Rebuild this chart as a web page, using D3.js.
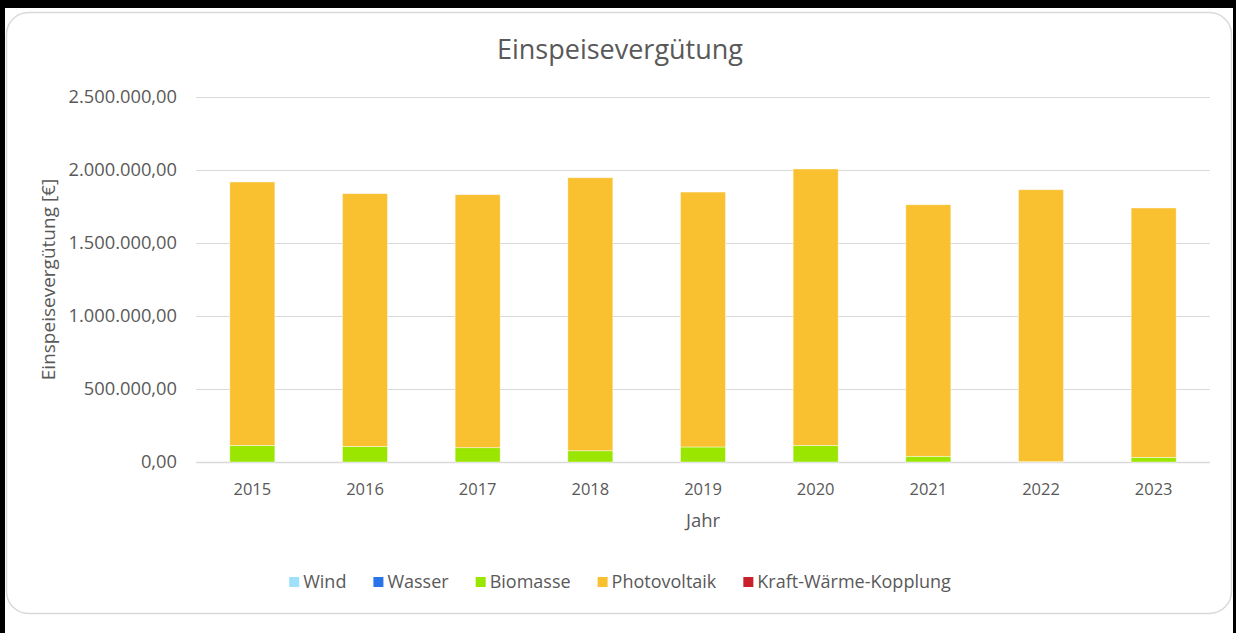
<!DOCTYPE html>
<html>
<head>
<meta charset="utf-8">
<script src="https://cdn.jsdelivr.net/npm/d3@7"></script>
<style>
  html, body { margin: 0; padding: 0; background: #000; }
  svg { display: block; font-family: "Open Sans", "Noto Sans", sans-serif; }
</style>
</head>
<body>
<script>
// chart data
var years = ['2015', '2016', '2017', '2018', '2019', '2020', '2021', '2022', '2023'];
var wind = [0, 0, 0, 0, 0, 0, 0, 0, 0];
var wasser = [0, 0, 0, 0, 0, 0, 0, 0, 0];
var biomasse = [114000, 107000, 98000, 77000, 103000, 114000, 39000, 2000, 32000];
var photovoltaik = [1804000, 1731000, 1733000, 1870000, 1746000, 1893000, 1723000, 1863000, 1708000];
var kwk = [0, 0, 0, 0, 0, 0, 0, 0, 0];
var yTicks = [0, 500000, 1000000, 1500000, 2000000, 2500000];

var seriesNames = ['Wind', 'Wasser', 'Biomasse', 'Photovoltaik', 'Kraft-Wärme-Kopplung'];
var seriesKeys = ['wind', 'wasser', 'biomasse', 'photovoltaik', 'kwk'];
var colors = ['#9fe1fb', '#2a73e8', '#9ae600', '#f9c030', '#c8212c'];

var rows = years.map(function(y, i) {
  return {
    year: y,
    wind: wind[i],
    wasser: wasser[i],
    biomasse: biomasse[i],
    photovoltaik: photovoltaik[i],
    kwk: kwk[i]
  };
});

var width = 1236;
var height = 633;
var textColor = '#595959';
var gridColor = '#d9d9d9';

var de = d3.formatLocale({decimal: ',', thousands: '.', grouping: [3], currency: ['', '€']});
var fmt = de.format(',.2f');

var svg = d3.select('body').append('svg')
  .attr('width', width)
  .attr('height', height);

// background frame
svg.append('rect').attr('width', width).attr('height', height).attr('fill', '#000');
svg.append('rect').attr('x', 5).attr('y', 8).attr('width', 1228).attr('height', height - 8).attr('fill', '#fff');
svg.append('rect')
  .attr('x', 6.5).attr('y', 12.5)
  .attr('width', 1225).attr('height', 601)
  .attr('rx', 22).attr('ry', 22)
  .attr('fill', '#fff')
  .attr('stroke', gridColor)
  .attr('stroke-width', 1.5);

var margin = {left: 196, right: 26, top: 97, bottom: 171};

var x = d3.scaleBand()
  .domain(years)
  .range([margin.left, width - margin.right])
  .paddingInner(0.6)
  .paddingOuter(0.3);

var y = d3.scaleLinear()
  .domain([0, 2500000])
  .range([height - margin.bottom, margin.top]);

// title
svg.append('text')
  .attr('x', 620)
  .attr('y', 50)
  .attr('dy', '0.35em')
  .attr('text-anchor', 'middle')
  .style('font-size', '27px')
  .style('fill', textColor)
  .text('Einspeisevergütung');

// gridlines
svg.append('g')
  .selectAll('line')
  .data(yTicks)
  .enter()
  .append('line')
  .attr('x1', margin.left)
  .attr('x2', width - margin.right)
  .attr('y1', function(d) { return Math.round(y(d)) + 0.5; })
  .attr('y2', function(d) { return Math.round(y(d)) + 0.5; })
  .attr('stroke', gridColor)
  .attr('stroke-width', function(d) { return d === 0 ? 1.5 : 1; });

// y tick labels
svg.append('g')
  .selectAll('text')
  .data(yTicks)
  .enter()
  .append('text')
  .attr('x', 177)
  .attr('y', function(d) { return y(d); })
  .attr('dy', '0.35em')
  .attr('text-anchor', 'end')
  .style('font-size', '18.3px')
  .style('fill', textColor)
  .text(function(d) { return fmt(d); });

// stacked bars
var stacked = d3.stack().keys(seriesKeys)(rows);

svg.append('g')
  .selectAll('g')
  .data(stacked)
  .enter()
  .append('g')
  .attr('fill', function(d, i) { return colors[i]; })
  .selectAll('rect')
  .data(function(d) { return d; })
  .enter()
  .append('rect')
  .filter(function(d) { return d[1] - d[0] > 0; })
  .attr('x', function(d) { return x(d.data.year); })
  .attr('y', function(d) { return y(d[1]); })
  .attr('width', x.bandwidth())
  .attr('height', function(d) { return y(d[0]) - y(d[1]); })
  .attr('stroke', 'rgba(255,255,255,0.6)')
  .attr('stroke-width', 0.75);

// x tick labels
svg.append('g')
  .selectAll('text')
  .data(years)
  .enter()
  .append('text')
  .attr('x', function(d) { return x(d) + x.bandwidth() / 2; })
  .attr('y', 489)
  .attr('dy', '0.35em')
  .attr('text-anchor', 'middle')
  .style('font-size', '16.5px')
  .style('fill', textColor)
  .text(function(d) { return d; });

// axis titles
svg.append('text')
  .attr('x', (margin.left + width - margin.right) / 2)
  .attr('y', 521)
  .attr('dy', '0.35em')
  .attr('text-anchor', 'middle')
  .style('font-size', '18.5px')
  .style('fill', textColor)
  .text('Jahr');

svg.append('text')
  .attr('transform', 'translate(48,' + (y(0) + y(2500000)) / 2 + ') rotate(-90)')
  .attr('dy', '0.35em')
  .attr('text-anchor', 'middle')
  .style('font-size', '19px')
  .style('fill', textColor)
  .text('Einspeisevergütung [€]');

// legend, centred under the chart
var legend = svg.append('g');
var items = legend.selectAll('g')
  .data(seriesNames)
  .enter()
  .append('g');

items.append('rect')
  .attr('width', 10)
  .attr('height', 10)
  .attr('y', -5)
  .attr('fill', function(d, i) { return colors[i]; });

items.append('text')
  .attr('x', 14)
  .attr('dy', '0.35em')
  .style('font-size', '18px')
  .style('fill', textColor)
  .text(function(d) { return d; });

var pos = 0;
items.each(function() {
  var w = 14 + this.querySelector('text').getComputedTextLength();
  d3.select(this).attr('transform', 'translate(' + pos + ',0)');
  pos += w + 27;
});
pos -= 27;
legend.attr('transform', 'translate(' + (620 - pos / 2) + ',582)');
</script>
</body>
</html>
